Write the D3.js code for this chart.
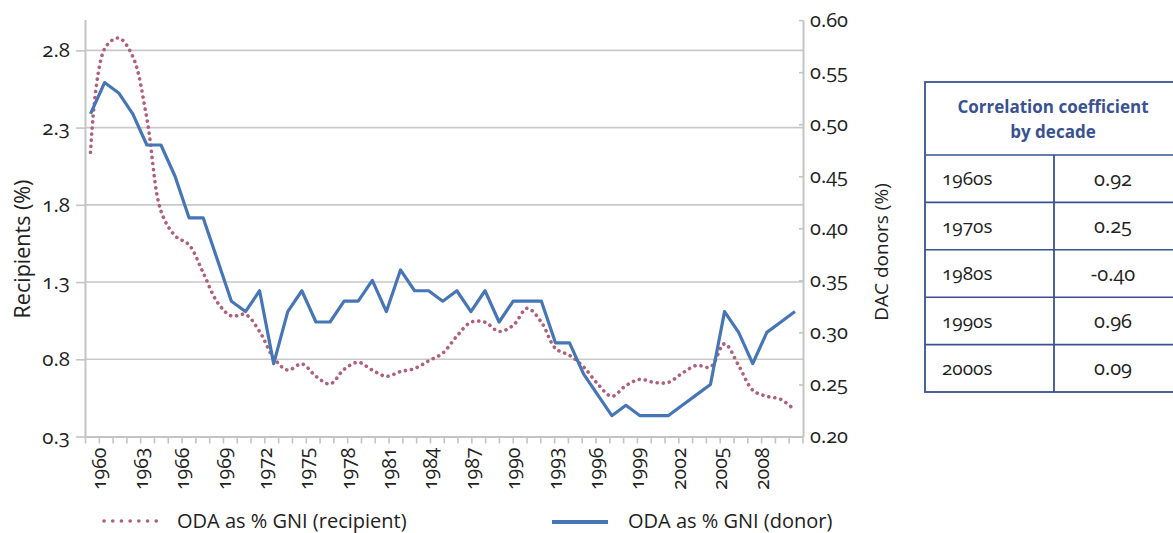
<!DOCTYPE html>
<html>
<head>
<meta charset="utf-8">
<script src="https://cdn.jsdelivr.net/npm/d3@7"></script>
<style>
  html, body { margin: 0; padding: 0; background: #ffffff; }
  svg { display: block; font-family: "Open Sans", "Noto Sans", sans-serif; font-variant-numeric: oldstyle-nums; font-feature-settings: "onum" 1; }
</style>
</head>
<body>
<svg id="chart" width="1173" height="533"></svg>
<script>
// ---------- data ----------
const years = [1960,1961,1962,1963,1964,1965,1966,1967,1968,1969,
               1970,1971,1972,1973,1974,1975,1976,1977,1978,1979,
               1980,1981,1982,1983,1984,1985,1986,1987,1988,1989,
               1990,1991,1992,1993,1994,1995,1996,1997,1998,1999,
               2000,2001,2002,2003,2004,2005,2006,2007,2008,2009,2010];

// ODA as % GNI (recipient) - left axis
const recipient = [2.14,2.81,2.88,2.76,2.36,1.76,1.60,1.54,1.36,1.17,
                   1.08,1.09,0.98,0.81,0.73,0.77,0.69,0.64,0.735,0.78,
                   0.73,0.69,0.72,0.74,0.79,0.84,0.95,1.04,1.04,0.98,
                   1.02,1.13,1.04,0.87,0.825,0.75,0.64,0.56,0.63,0.67,
                   0.65,0.65,0.71,0.76,0.75,0.90,0.76,0.60,0.56,0.54,0.47];

// ODA as % GNI (donor) - right axis
const donor = [0.51,0.54,0.53,0.51,0.48,0.48,0.45,0.41,0.41,0.37,
               0.33,0.32,0.34,0.27,0.32,0.34,0.31,0.31,0.33,0.33,
               0.35,0.32,0.36,0.34,0.34,0.33,0.34,0.32,0.34,0.31,
               0.33,0.33,0.33,0.29,0.29,0.26,0.24,0.22,0.23,0.22,
               0.22,0.22,0.23,0.24,0.25,0.32,0.30,0.27,0.30,0.31,0.32];

const leftTicks = [0.3, 0.8, 1.3, 1.8, 2.3, 2.8];
const rightTicks = [0.20, 0.25, 0.30, 0.35, 0.40, 0.45, 0.50, 0.55, 0.60];
const xLabelYears = [1960,1963,1966,1969,1972,1975,1978,1981,1984,1987,1990,1993,1996,1999,2002,2005,2008];
const xTickYears = [1959,1960,1961,1962,1963,1964,1965,1966,1967,1968,1969,
                    1970,1971,1972,1973,1974,1975,1976,1977,1978,1979,
                    1980,1981,1982,1983,1984,1985,1986,1987,1988,1989,
                    1990,1991,1992,1993,1994,1995,1996,1997,1998,1999,
                    2000,2001,2002,2003,2004,2005,2006,2007,2008,2009,2010,2011];

const seriesNames = ["ODA as % GNI (recipient)", "ODA as % GNI (donor)"];
const leftTitle = "Recipients (%)";
const rightTitle = "DAC donors (%)";

const tableTitle = ["Correlation coefficient", "by decade"];
const decades = ["1960s", "1970s", "1980s", "1990s", "2000s"];
const correlations = ["0.92", "0.25", "-0.40", "0.96", "0.09"];

// ---------- layout ----------
const svg = d3.select("#chart");
const plot = { left: 85, right: 803, top: 19.5, bottom: 436.5 };
const blue = "#4676b6";
const pink = "#b0617a";
const grid = "#c9c9c9";
const navy = "#3a5290";
const textCol = "#222222";

const yL = d3.scaleLinear().domain([0.3, 3.0]).range([plot.bottom, plot.top]);
const yR = d3.scaleLinear().domain([0.2, 0.6]).range([plot.bottom, plot.bottom - 0.4 * 1041]);
const xData = d3.scalePoint().domain(years).range([90.5, 795]);
const xAxisScale = d3.scaleLinear().domain([1959, 2011]).range([plot.left, 802.5]);

// gridlines
svg.append("g").selectAll("line")
  .data(leftTicks.filter(d => d > 0.3))
  .join("line")
  .attr("x1", plot.left).attr("x2", plot.right)
  .attr("y1", d => yL(d)).attr("y2", d => yL(d))
  .attr("stroke", grid).attr("stroke-width", 1.6);

function styleAxis(g, size) {
  g.attr("font-family", null).attr("font-size", null);
  g.select(".domain").attr("stroke", "#c4c4c4").attr("stroke-width", 2);
  g.selectAll(".tick line").attr("stroke", "#c4c4c4").attr("stroke-width", 1.6);
  g.selectAll("text").attr("fill", textCol).style("font-size", size);
}

// left axis
const gL = svg.append("g").attr("transform", `translate(${plot.left},0)`)
  .call(d3.axisLeft(yL).tickValues(leftTicks).tickSize(9).tickSizeOuter(0).tickPadding(6).tickFormat(d3.format(".1f")));
styleAxis(gL, "20.5px");

// right axis
const gR = svg.append("g").attr("transform", `translate(${plot.right},0)`)
  .call(d3.axisRight(yR).tickValues(rightTicks).tickSize(-4).tickSizeOuter(0).tickPadding(7).tickFormat(d3.format(".2f")));
styleAxis(gR, "20px");

// bottom axis
const gX = svg.append("g").attr("transform", `translate(0,${plot.bottom})`)
  .call(d3.axisBottom(xAxisScale).tickValues(xTickYears).tickSize(7).tickSizeOuter(0)
        .tickFormat(d => xLabelYears.includes(d) ? String(d) : ""));
styleAxis(gX, "19.5px");
gX.selectAll("text")
  .attr("transform", "rotate(-90)")
  .attr("x", -11).attr("y", 0).attr("dy", "0.36em")
  .style("text-anchor", "end");

// lines
const lineL = d3.line().x((d, i) => xData(years[i])).y(d => yL(d)).curve(d3.curveCatmullRom.alpha(0.5));
const lineR = d3.line().x((d, i) => xData(years[i])).y(d => yR(d));

svg.append("path").datum(recipient)
  .attr("d", lineL).attr("fill", "none")
  .attr("stroke", pink).attr("stroke-width", 3.6)
  .attr("stroke-linecap", "round").attr("stroke-dasharray", "0.1,6");

svg.append("path").datum(donor)
  .attr("d", lineR).attr("fill", "none")
  .attr("stroke", blue).attr("stroke-width", 3.2)
  .attr("stroke-linejoin", "round");

// axis titles
svg.append("text").attr("transform", "translate(30,249) rotate(-90)")
  .attr("text-anchor", "middle").attr("fill", textCol)
  .style("font-size", "21.5px").text(leftTitle);
svg.append("text").attr("transform", "translate(888,252) rotate(-90)")
  .attr("text-anchor", "middle").attr("fill", textCol)
  .style("font-size", "19px").text(rightTitle);

// legend
const lg = svg.append("g");
lg.append("line").attr("x1", 104).attr("x2", 160).attr("y1", 521).attr("y2", 521)
  .attr("stroke", pink).attr("stroke-width", 3.6).attr("stroke-linecap", "round")
  .attr("stroke-dasharray", "0.1,8.6");
lg.append("text").attr("x", 177).attr("y", 528).attr("fill", textCol)
  .style("font-size", "20px").text(seriesNames[0]);
lg.append("line").attr("x1", 552).attr("x2", 608).attr("y1", 522).attr("y2", 522)
  .attr("stroke", blue).attr("stroke-width", 4);
lg.append("text").attr("x", 628).attr("y", 528).attr("fill", textCol)
  .style("font-size", "20px").text(seriesNames[1]);

// table
const tb = { left: 925, right: 1183, top: 82, head: 155, bottom: 392, mid: 1054 };
const rowY = d3.scaleBand().domain(decades).range([tb.head, tb.bottom]);
const t = svg.append("g");
t.append("rect").attr("x", tb.left).attr("y", tb.top)
  .attr("width", tb.right - tb.left).attr("height", tb.bottom - tb.top)
  .attr("fill", "none").attr("stroke", navy).attr("stroke-width", 1.8);
t.append("line").attr("x1", tb.mid).attr("x2", tb.mid).attr("y1", tb.head).attr("y2", tb.bottom)
  .attr("stroke", navy).attr("stroke-width", 1.8);
t.selectAll("line.row").data(decades).join("line").attr("class", "row")
  .attr("x1", tb.left).attr("x2", tb.right)
  .attr("y1", d => rowY(d)).attr("y2", d => rowY(d))
  .attr("stroke", navy).attr("stroke-width", 1.6);
t.selectAll("text.head").data(tableTitle).join("text").attr("class", "head")
  .attr("x", 1053).attr("y", (d, i) => 113 + i * 25)
  .attr("text-anchor", "middle").attr("fill", navy)
  .style("font-size", "17px").style("font-weight", "700").text(d => d);
t.selectAll("text.dec").data(decades).join("text").attr("class", "dec")
  .attr("x", 942).attr("y", d => rowY(d) + rowY.bandwidth() / 2)
  .attr("dy", "0.35em").attr("fill", textCol)
  .style("font-size", "19px").text(d => d);
t.selectAll("text.val").data(correlations).join("text").attr("class", "val")
  .attr("x", 1113).attr("y", (d, i) => rowY(decades[i]) + rowY.bandwidth() / 2)
  .attr("dy", "0.35em").attr("text-anchor", "middle").attr("fill", textCol)
  .style("font-size", "20px").text(d => d);
</script>
</body>
</html>
